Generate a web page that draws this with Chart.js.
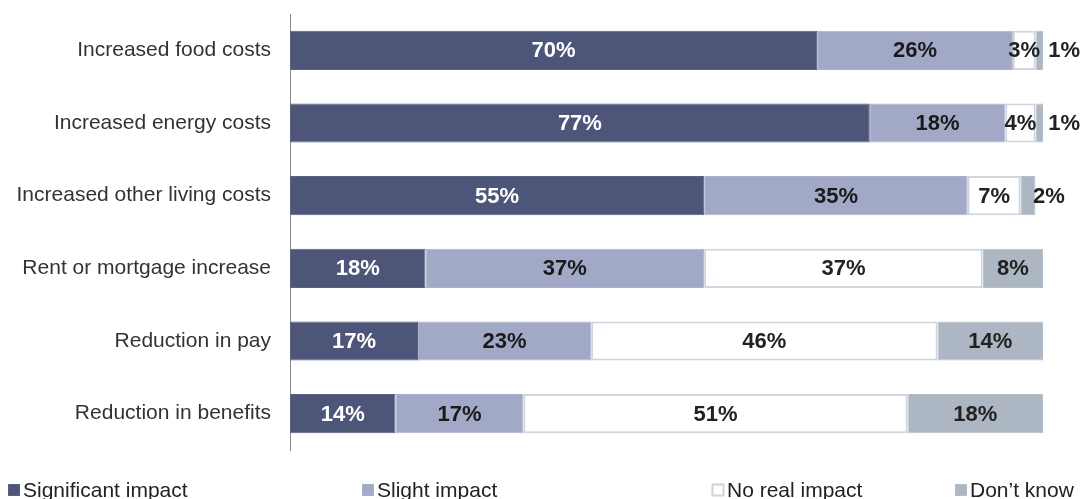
<!DOCTYPE html>
<html>
<head>
<meta charset="utf-8">
<script src="https://cdn.jsdelivr.net/npm/chart.js@4/dist/chart.umd.min.js"></script>
<style>
  html, body { margin: 0; padding: 0; background: #fff; }
  #wrap { position: relative; width: 1083px; height: 499px; }
</style>
</head>
<body>
<div id="wrap"><canvas id="impactChart" width="1083" height="499"></canvas></div>
<script>
// ==================== DATA ====================
const categories = [
    'Increased food costs',
    'Increased energy costs',
    'Increased other living costs',
    'Rent or mortgage increase',
    'Reduction in pay',
    'Reduction in benefits'
];
const significantImpact = [70, 77, 55, 18, 17, 14];
const slightImpact      = [26, 18, 35, 37, 23, 17];
const noRealImpact      = [3, 4, 7, 37, 46, 51];
const dontKnow          = [1, 1, 2, 8, 14, 18];
const seriesNames = ['Significant impact', 'Slight impact', 'No real impact', 'Don\u2019t know'];

// ==================== STYLE ====================
const fillColors   = ['#4d5679', '#a2a9c6', '#ffffff', '#adb7c3'];
const borderColors = ['#5a6385', '#acb2cc', '#cfd4de', '#b6bfca'];
const labelColors  = ['#ffffff', '#1a1a1a', '#222222', '#222222'];
const legendX      = [8, 362, 712, 955];
const FONT = '"Liberation Sans", Arial, sans-serif';

// ==================== PLUGINS ====================
// percentage labels on each segment; tiny ones sit just outside the bar
const segmentLabels = {
    id: 'segmentLabels',
    afterDatasetsDraw(chart) {
        const ctx = chart.ctx;
        ctx.save();
        ctx.font = 'bold 22px ' + FONT;
        ctx.textBaseline = 'middle';
        chart.data.datasets.forEach((ds, di) => {
            const meta = chart.getDatasetMeta(di);
            meta.data.forEach((bar, i) => {
                const v = ds.data[i];
                const txt = v + '%';
                const cx = (bar.x + bar.base) / 2;
                ctx.fillStyle = labelColors[di];
                if (v <= 2) {
                    ctx.textAlign = 'left';
                    ctx.fillText(txt, cx + (v === 1 ? 9 : 5), bar.y + 1);
                } else {
                    ctx.textAlign = 'center';
                    ctx.fillText(txt, cx, bar.y + 1);
                }
            });
        });
        ctx.restore();
    }
};

// legend row along the bottom edge
const bottomLegend = {
    id: 'bottomLegend',
    afterDraw(chart) {
        const ctx = chart.ctx;
        const y = 490;
        ctx.save();
        ctx.font = '21px ' + FONT;
        ctx.textBaseline = 'middle';
        ctx.textAlign = 'left';
        seriesNames.forEach((name, k) => {
            const x = legendX[k];
            ctx.fillStyle = fillColors[k];
            ctx.fillRect(x, y - 6, 12, 12);
            ctx.strokeStyle = borderColors[k];
            ctx.lineWidth = k === 2 ? 2 : 1;
            ctx.strokeRect(x + 0.5, y - 5.5, 11, 11);
            ctx.fillStyle = '#222222';
            ctx.fillText(name, x + 15, y + 1);
        });
        ctx.restore();
    }
};

// ==================== CHART ====================
const datasets = [significantImpact, slightImpact, noRealImpact, dontKnow].map((vals, k) => ({
    label: seriesNames[k],
    data: vals,
    backgroundColor: fillColors[k],
    borderColor: borderColors[k],
    borderWidth: k === 2 ? 2 : 1,
    borderSkipped: false,
    barPercentage: 0.54,
    categoryPercentage: 1
}));

new Chart(document.getElementById('impactChart'), {
    type: 'bar',
    data: { labels: categories, datasets: datasets },
    options: {
        indexAxis: 'y',
        responsive: false,
        animation: false,
        layout: { padding: { top: 14, right: 40, bottom: 49, left: 0 } },
        plugins: {
            legend: { display: false },
            tooltip: { enabled: false }
        },
        scales: {
            x: {
                stacked: true,
                min: 0,
                max: 100,
                display: false
            },
            y: {
                stacked: true,
                afterFit(scale) {
                    scale.width = 290;
                    scale.paddingTop = 0;
                    scale.paddingBottom = 0;
                },
                grid: { display: false, drawTicks: false },
                border: { display: true, color: '#8a8a8a', width: 1 },
                ticks: {
                    padding: 19,
                    color: '#333333',
                    font: { family: FONT, size: 21 }
                }
            }
        }
    },
    plugins: [segmentLabels, bottomLegend]
});
</script>
</body>
</html>
